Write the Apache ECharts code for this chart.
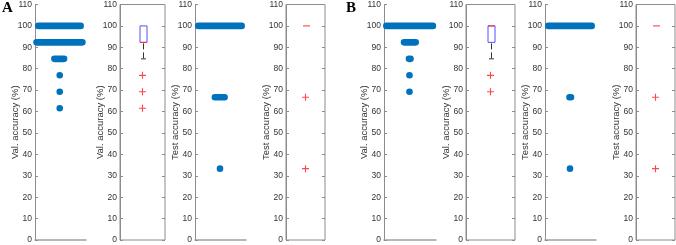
<!DOCTYPE html>
<html>
<head>
<meta charset="utf-8">
<script src="https://cdn.jsdelivr.net/npm/echarts@6/dist/echarts.min.js"></script>
<style>
html, body { margin: 0; padding: 0; background: #fff; }
#chart { width: 676px; height: 245px; }
</style>
</head>
<body>
<div id="chart"></div>
<script>
// accuracy levels (rows of jittered points): [y, left x, right x] in panel units 0..1
var aValRows = [[100, 0.065, 0.895], [92.31, 0.03, 0.93], [84.62, 0.38, 0.57], [76.92, 0.485, 0.485], [69.23, 0.485, 0.485], [61.54, 0.485, 0.485]];
var aTestRows = [[100, 0.065, 0.915], [66.67, 0.39, 0.58], [33.33, 0.49, 0.49]];
var bValRows = [[100, 0.045, 0.94], [92.31, 0.385, 0.61], [84.62, 0.48, 0.51], [76.92, 0.49, 0.49], [69.23, 0.49, 0.49]];
var bTestRows = [[100, 0.065, 0.915], [66.67, 0.48, 0.51], [33.33, 0.49, 0.49]];

// box stats: [low whisker, q1, median, q3, high whisker]
var aValBox = [84.62, 92.31, 92.31, 100, 100];
var aValOut = [76.92, 69.23, 61.54];
var aTestBox = [100, 100, 100, 100, 100];
var aTestOut = [66.67, 33.33];
var bValBox = [84.62, 92.31, 100, 100, 100];
var bValOut = [76.92, 69.23];
var bTestBox = [100, 100, 100, 100, 100];
var bTestOut = [66.67, 33.33];

var yTicks = [0, 10, 20, 30, 40, 50, 60, 70, 80, 90, 100, 110];
var valName = 'Val. accuracy (%)';
var testName = 'Test accuracy (%)';

var axisCol = '#8c8c8c';
var textCol = '#333';
var fontFam = 'Liberation Sans, Arial, sans-serif';

// panels: kind, left, width, y name, data
var panels = [
  {kind: 'dots', left: 35, width: 51, name: valName, rows: aValRows},
  {kind: 'box', left: 120, width: 45, name: valName, box: aValBox, out: aValOut},
  {kind: 'dots', left: 195, width: 51, name: testName, rows: aTestRows},
  {kind: 'box', left: 286, width: 39, name: testName, box: aTestBox, out: aTestOut},
  {kind: 'dots', left: 384, width: 52, name: valName, rows: bValRows},
  {kind: 'box', left: 466, width: 49, name: valName, box: bValBox, out: bValOut},
  {kind: 'dots', left: 545, width: 51, name: testName, rows: bTestRows},
  {kind: 'box', left: 636, width: 39, name: testName, box: bTestBox, out: bTestOut}
];

var grids = [], xAxes = [], yAxes = [], series = [];

function renderRow(params, api) {
  var y = api.value(0);
  var p1 = api.coord([api.value(1), y]);
  var p2 = api.coord([api.value(2), y]);
  var r = 3.3;
  return {
    type: 'rect',
    shape: {x: p1[0] - r, y: p1[1] - r, width: p2[0] - p1[0] + 2 * r, height: 2 * r, r: r},
    style: {fill: '#0072bd'}
  };
}

function renderBox(params, api) {
  var x = api.value(0);
  var lo = api.coord([x, api.value(1)]);
  var q1 = api.coord([x, api.value(2)]);
  var md = api.coord([x, api.value(3)]);
  var q3 = api.coord([x, api.value(4)]);
  var hi = api.coord([x, api.value(5)]);
  var cx = Math.round(q1[0]) + 0.5;
  var hw = 3.5;
  var kids = [];
  if (lo[1] - q1[1] > 0.5) {
    kids.push({type: 'line', shape: {x1: cx, y1: q1[1] + 1, x2: cx, y2: lo[1]},
      style: {stroke: '#333', lineWidth: 1, lineDash: [6, 3]}});
    kids.push({type: 'line', shape: {x1: cx - 2.5, y1: lo[1], x2: cx + 2.5, y2: lo[1]},
      style: {stroke: '#333', lineWidth: 1}});
  }
  if (q3[1] - hi[1] > 0.5) {
    kids.push({type: 'line', shape: {x1: cx, y1: q3[1], x2: cx, y2: hi[1]},
      style: {stroke: '#333', lineWidth: 1, lineDash: [6, 3]}});
  }
  if (q1[1] - q3[1] > 0.5) {
    kids.push({type: 'rect', shape: {x: cx - hw, y: q3[1], width: 2 * hw, height: q1[1] - q3[1]},
      style: {fill: 'none', stroke: '#5050ff', lineWidth: 1}});
  }
  kids.push({type: 'line', shape: {x1: cx - hw, y1: md[1], x2: cx + hw, y2: md[1]},
    style: {stroke: '#ff3030', lineWidth: 1}});
  return {type: 'group', children: kids};
}

panels.forEach(function (p, i) {
  var isBox = p.kind === 'box';
  grids.push({
    left: p.left, top: 4, width: p.width, height: 236,
    show: isBox, borderColor: axisCol, borderWidth: 1, backgroundColor: 'transparent'
  });
  xAxes.push({
    gridIndex: i, type: 'value', min: 0, max: isBox ? 2 : 1,
    axisLine: {show: !isBox, lineStyle: {color: '#a0a0a0', width: 1.5}},
    axisTick: {show: false}, axisLabel: {show: false}, splitLine: {show: false}
  });
  yAxes.push({
    gridIndex: i, type: 'value', min: yTicks[0], max: yTicks[yTicks.length - 1], interval: 10,
    name: p.name, nameLocation: 'middle', nameGap: 15, nameRotate: 90, nameMoveOverlap: false,
    nameTextStyle: {color: textCol, fontSize: 9.5, fontFamily: fontFam},
    axisLine: {show: true, lineStyle: {color: axisCol, width: 1}},
    axisTick: {show: true, inside: true, length: 3, lineStyle: {color: axisCol}},
    axisLabel: {color: textCol, fontSize: 8.5, fontFamily: fontFam, margin: 3},
    splitLine: {show: false}
  });
  var yIdx = yAxes.length - 1;
  if (isBox) {
    yAxes.push({
      gridIndex: i, type: 'value', position: 'right', min: 0, max: 110, interval: 10,
      axisLine: {show: false}, axisLabel: {show: false}, splitLine: {show: false},
      axisTick: {show: true, inside: true, length: 3, lineStyle: {color: axisCol}}
    });
    series.push({
      type: 'custom', xAxisIndex: i, yAxisIndex: yIdx,
      renderItem: renderBox, silent: true,
      data: [[1].concat(p.box)]
    });
    series.push({
      type: 'scatter', xAxisIndex: i, yAxisIndex: yIdx, silent: true,
      symbol: 'path://M4.2,0h1.6v4.2h4.2v1.6h-4.2v4.2h-1.6v-4.2h-4.2v-1.6h4.2z',
      symbolSize: 7,
      itemStyle: {color: '#ff1a1a'},
      data: p.out.map(function (v) { return [1, v]; })
    });
  } else {
    series.push({
      type: 'custom', xAxisIndex: i, yAxisIndex: yIdx,
      renderItem: renderRow, silent: true,
      encode: {x: [1, 2], y: 0},
      data: p.rows
    });
  }
});

var chart = echarts.init(document.getElementById('chart'), null, {renderer: 'canvas'});
chart.setOption({
  animation: false,
  backgroundColor: '#fff',
  grid: grids,
  xAxis: xAxes,
  yAxis: yAxes,
  series: series,
  graphic: [
    {type: 'text', left: 2, top: 1, style: {text: 'A', fontSize: 15, fontWeight: 'bold', fontFamily: 'Liberation Serif, Times New Roman, serif', fill: '#000'}},
    {type: 'text', left: 346, top: 1, style: {text: 'B', fontSize: 15, fontWeight: 'bold', fontFamily: 'Liberation Serif, Times New Roman, serif', fill: '#000'}}
  ]
});
</script>
</body>
</html>
